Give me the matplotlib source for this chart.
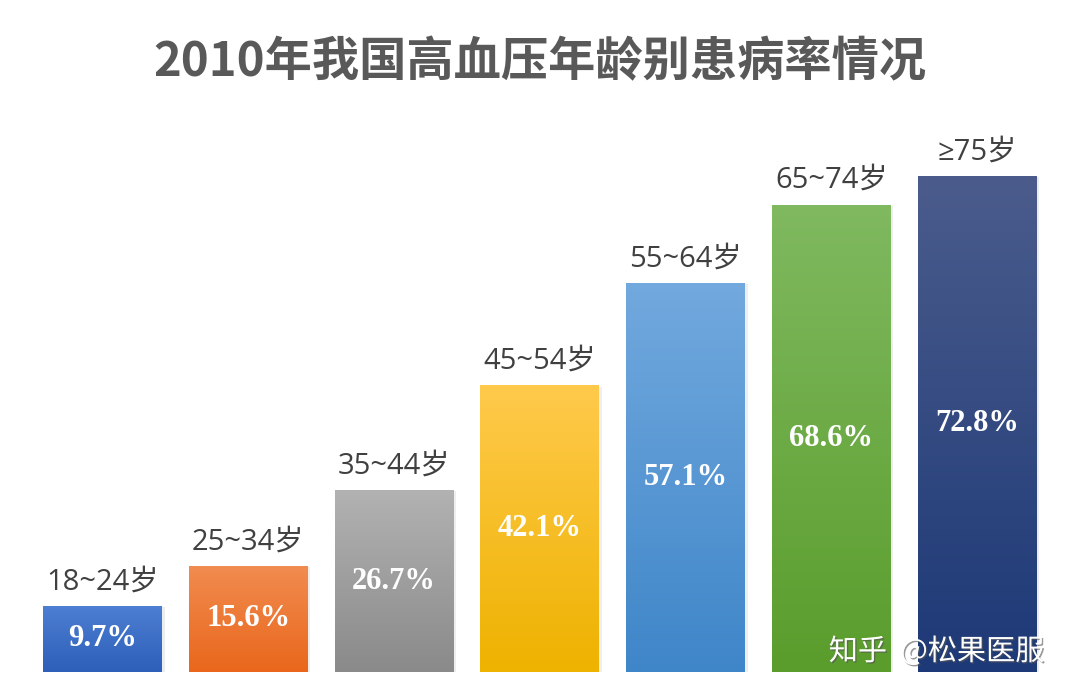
import numpy as np
import matplotlib.pyplot as plt
import matplotlib.patheffects as pe
from matplotlib.colors import LinearSegmentedColormap

plt.rcParams['font.family'] = ['Noto Sans CJK SC', 'DejaVu Sans']

# data
ages = ['18~24岁', '25~34岁', '35~44岁', '45~54岁', '55~64岁', '65~74岁', '≥75岁']
rates = [9.7, 15.6, 26.7, 42.1, 57.1, 68.6, 72.8]
# gradient colours (top, bottom)
top_colors = ['#4d7fd3', '#f18c50', '#b2b2b2', '#ffca4c', '#72a9de', '#80b960', '#4b5c8c']
bottom_colors = ['#2e5fb9', '#e9671c', '#8a8a8a', '#eeb200', '#3f86c9', '#5a9d2c', '#1d3977']

fig = plt.figure(figsize=(10.8, 6.98), dpi=100)
ax = fig.add_axes([0.0274, 0.0372, 0.9447, 0.781])

x = np.arange(len(ages))
bars = ax.bar(x, rates, width=0.816, color='none', edgecolor='none')

grad = np.linspace(1, 0, 256).reshape(-1, 1)
for i, b in enumerate(bars):
    cmap = LinearSegmentedColormap.from_list('g%d' % i, [bottom_colors[i], top_colors[i]])
    b.set_path_effects([pe.SimplePatchShadow(offset=(2, -1), alpha=0.08), pe.Normal()])
    b.set_facecolor(bottom_colors[i])
    im = ax.imshow(grad, cmap=cmap, aspect='auto', zorder=3,
                   extent=[b.get_x(), b.get_x() + b.get_width(), 0, b.get_height()])
    im.set_clip_path(b)

    ax.text(x[i], rates[i] + 1.4, ages[i], ha='center', va='bottom',
            fontsize=21, color='#404040', zorder=5,
            family=['Open Sans', 'Noto Sans CJK SC', 'DejaVu Sans'])
    ax.text(x[i], rates[i] / 2, '%.1f%%' % rates[i], ha='center', va='center',
            fontsize=22, fontweight='bold', color='white',
            family=['Liberation Serif', 'DejaVu Serif'], zorder=5)

ax.set_xlim(-0.5, 6.5)
ax.set_ylim(0, 80)
ax.axis('off')

fig.text(0.5, 0.911, '2010年我国高血压年龄别患病率情况', ha='center', va='center',
         fontsize=34, fontweight='bold', color='#595959')

fig.text(0.867, 0.066, '知乎  @松果医服', ha='center', va='center',
         fontsize=21, color='white', zorder=10,
         path_effects=[pe.withSimplePatchShadow(offset=(1, -1), shadow_rgbFace='#555555', alpha=0.6)])

fig.savefig('out.png', dpi=100)
